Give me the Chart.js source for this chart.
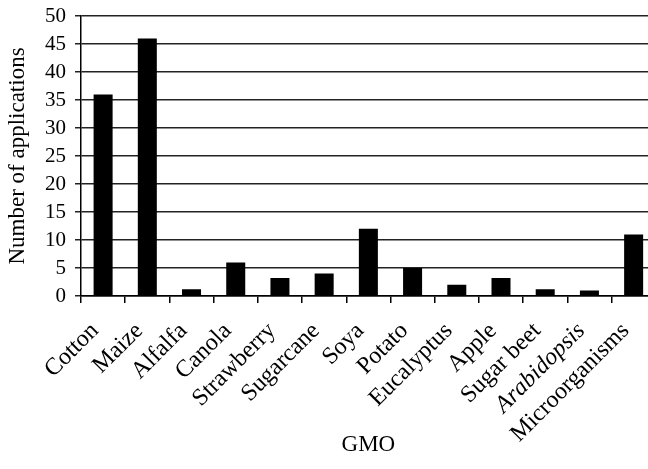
<!DOCTYPE html>
<html>
<head>
<meta charset="utf-8">
<script src="https://cdn.jsdelivr.net/npm/chart.js@4"></script>
<style>
  html, body { margin: 0; padding: 0; background: #fff; overflow: hidden; }
  #wrap { width: 668px; height: 469px; }
</style>
</head>
<body>
<div id="wrap"><canvas id="gmoChart"></canvas></div>
<script>
// categories and values
const crops = ['Cotton', 'Maize', 'Alfalfa', 'Canola', 'Strawberry', 'Sugarcane', 'Soya',
               'Potato', 'Eucalyptus', 'Apple', 'Sugar beet', 'Arabidopsis', 'Microorganisms'];
const applications = [36, 46, 1.2, 6, 3.2, 4, 12, 5, 2, 3.2, 1.2, 1, 11];
const italicLabels = ['Arabidopsis'];

const serif = '"Liberation Serif", "Times New Roman", serif';

const data = {
    labels: crops,
    datasets: [{
        label: 'Number of applications',
        data: applications,
        backgroundColor: '#000',
        borderWidth: 0,
        barPercentage: 0.43,
        categoryPercentage: 1
    }]
};

const config = {
    type: 'bar',
    data: data,
    options: {
        responsive: true,
        maintainAspectRatio: false,
        animation: false,
        layout: { padding: { top: 16, left: 0, right: 0, bottom: 0 } },
        plugins: {
            legend: { display: false },
            tooltip: { enabled: false }
        },
        scales: {
            x: {
                grid: {
                    offset: true,
                    drawOnChartArea: false,
                    tickLength: 7,
                    color: '#000',
                    lineWidth: 1.5
                },
                border: { color: '#000', width: 1.5 },
                ticks: {
                    color: '#000',
                    minRotation: 45,
                    maxRotation: 45,
                    autoSkip: false,
                    padding: 14,
                    labelOffset: -8,
                    font: function(ctx) {
                        let label = crops[ctx.index];
                        return {
                            family: serif,
                            size: 24,
                            style: italicLabels.includes(label) ? 'italic' : 'normal'
                        };
                    }
                },
                title: {
                    display: true,
                    text: 'GMO',
                    color: '#000',
                    font: { family: serif, size: 23 },
                    padding: { top: 0, bottom: 10 }
                },
                afterFit: function(scale) { scale.height = 173; }
            },
            y: {
                min: 0,
                max: 50,
                ticks: {
                    stepSize: 5,
                    autoSkip: false,
                    color: '#000',
                    padding: 9,
                    font: { family: serif, size: 21, lineHeight: 0.6 }
                },
                grid: {
                    color: '#222',
                    lineWidth: 1.5,
                    tickLength: 6
                },
                border: { color: '#000', width: 1.5 },
                title: {
                    display: true,
                    text: 'Number of applications',
                    color: '#000',
                    font: { family: serif, size: 23 },
                    padding: { top: 4, bottom: 0 }
                },
                afterFit: function(scale) { scale.width = 81; }
            }
        }
    }
};

document.addEventListener('DOMContentLoaded', function() {
    new Chart(document.getElementById('gmoChart'), config);
});
</script>
</body>
</html>
